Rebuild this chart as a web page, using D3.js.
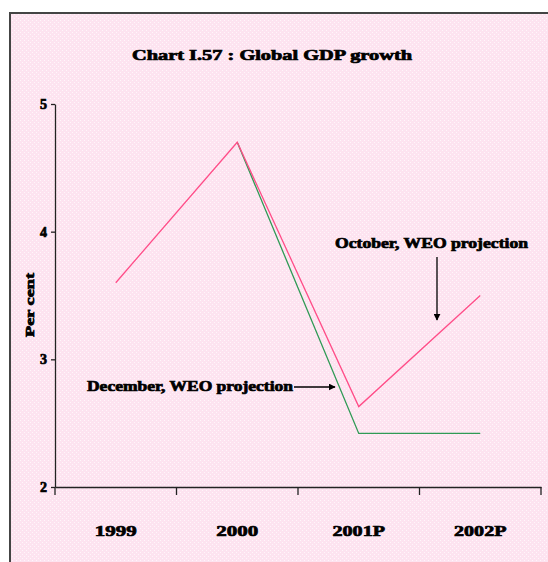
<!DOCTYPE html>
<html><head><meta charset="utf-8">
<script src="https://cdn.jsdelivr.net/npm/d3@7"></script>
<style>body{margin:0;background:#fff}svg{display:block}text{font-family:"Liberation Serif","Times New Roman",serif;font-weight:bold;fill:#000;stroke:#000;stroke-width:0.7px}</style>
</head><body>
<script>
const categories = ["1999", "2000", "2001P", "2002P"];
const october = [3.6, 4.7, 2.63, 3.5];
const december = [null, 4.7, 2.42, 2.42];
const yTicks = [2, 3, 4, 5];
const title = "Chart I.57 : Global GDP growth";
const yLabel = "Per cent";
const octNote = "October, WEO projection";
const decNote = "December, WEO projection";

const W = 548, H = 562;
const svg = d3.select("body").append("svg").attr("width", W).attr("height", H);
const defs = svg.append("defs");
const pat = defs.append("pattern").attr("id","dith").attr("width",4).attr("height",4).attr("patternUnits","userSpaceOnUse");
pat.append("rect").attr("width",4).attr("height",4).attr("fill","#fde3f0");
pat.append("rect").attr("x",0).attr("y",0).attr("width",1).attr("height",1).attr("fill","#fff6fa");
pat.append("rect").attr("x",2).attr("y",2).attr("width",1).attr("height",1).attr("fill","#fff6fa");

svg.append("rect").attr("x",9).attr("y",12).attr("width",W-9).attr("height",H-12).attr("fill","url(#dith)");
svg.append("path").attr("d",`M10,${H} V13 H${W}`).attr("fill","none").attr("stroke","#444").attr("stroke-width",2);

const x = d3.scaleBand().domain(categories).range([55, 541]);
const y = d3.scaleLinear().domain([2, 5]).range([487, 104]);

function fit(sel, len) {
  sel.attr("textLength", len).attr("lengthAdjust", "spacingAndGlyphs");
}

svg.append("text").attr("x",272).attr("y",60).attr("text-anchor","middle").attr("font-size",14).text(title).call(fit, 280);

const ya = svg.append("g").attr("transform","translate(55,0)")
  .call(d3.axisLeft(y).tickValues(yTicks).tickFormat(d3.format("d")).tickSize(4).tickSizeOuter(0));
ya.select(".domain").attr("stroke","#222").attr("stroke-width",1.3);
ya.selectAll(".tick line").attr("stroke","#222").attr("stroke-width",1.3);
ya.selectAll("text").attr("font-size",14).attr("font-family","Liberation Serif").attr("font-weight","bold").attr("x",-8);

const xa = svg.append("g").attr("transform","translate(0,487)")
  .call(d3.axisBottom(x).tickSize(0).tickPadding(38));
xa.select(".domain").attr("stroke","#222").attr("stroke-width",1.3);
xa.selectAll("text").attr("font-size",15).attr("font-family","Liberation Serif").attr("font-weight","bold")
  .each(function(d){ d3.select(this).call(fit, d.length * 10.5); });
const bounds = categories.map(c => x(c)).concat([x(categories[categories.length-1]) + x.bandwidth()]);
xa.selectAll(".sep").data(bounds).enter().append("line").attr("class","sep")
  .attr("x1",d=>d).attr("x2",d=>d).attr("y1",0).attr("y2",8).attr("stroke","#222").attr("stroke-width",1.3);

svg.append("text").attr("transform","translate(34,305) rotate(-90)").attr("text-anchor","middle").attr("font-size",13).text(yLabel).call(fit, 64);

const line = d3.line().defined(d => d[1] != null).x(d => x(d[0]) + x.bandwidth()/2).y(d => y(d[1]));
svg.append("path").datum(categories.map((c,i)=>[c, december[i]])).attr("d",line)
  .attr("fill","none").attr("stroke","#2f9a55").attr("stroke-width",1.3);
svg.append("path").datum(categories.map((c,i)=>[c, october[i]])).attr("d",line)
  .attr("fill","none").attr("stroke","#ff4d88").attr("stroke-width",1.3);

svg.append("text").attr("x",335).attr("y",248).attr("font-size",14).text(octNote).call(fit, 193);
svg.append("text").attr("x",87).attr("y",391).attr("font-size",14).text(decNote).call(fit, 206);

const mk = defs.append("marker").attr("id","ah").attr("viewBox","0 0 10 10").attr("refX",9).attr("refY",5)
  .attr("markerWidth",7).attr("markerHeight",7).attr("markerUnits","userSpaceOnUse").attr("orient","auto");
mk.append("path").attr("d","M0,0 L10,5 L0,10 Z").attr("fill","#000");
svg.append("line").attr("x1",437).attr("y1",257).attr("x2",437).attr("y2",320).attr("stroke","#000").attr("stroke-width",1.3).attr("marker-end","url(#ah)");
svg.append("line").attr("x1",294).attr("y1",387).attr("x2",335).attr("y2",387).attr("stroke","#000").attr("stroke-width",1.3).attr("marker-end","url(#ah)");
</script>
</body></html>
